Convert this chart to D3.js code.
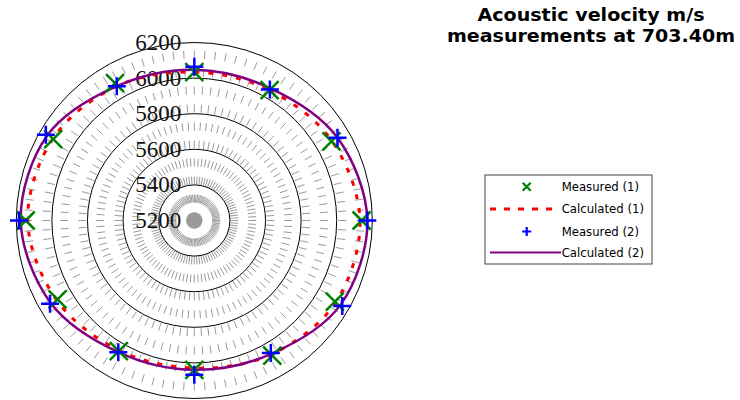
<!DOCTYPE html>
<html>
<head>
<meta charset="utf-8">
<script src="https://cdn.jsdelivr.net/npm/d3@7"></script>
<style>
  html, body { margin: 0; padding: 0; background: #fff; }
  svg { display: block; }
</style>
</head>
<body>
<svg id="chart" width="740" height="400"></svg>
<script>
// Bearings (degrees, clockwise from north) of the twelve readings
const angles = [0, 30, 60, 90, 120, 150, 180, 210, 240, 270, 300, 330];

// Acoustic velocity (m/s) per bearing
const measured1   = [6034, 6046, 6090, 6140, 6112, 6076, 6039, 6048, 6087, 6147, 6115, 6091];
const calculated1 = [6034, 6045, 6093, 6131, 6118, 6068, 6029, 6043, 6093, 6136, 6118, 6071];
const measured2   = [6064, 6049, 6129, 6172, 6160, 6060, 6067, 6054, 6136, 6185, 6163, 6071];
const calculated2 = [6047, 6057, 6129, 6172, 6148, 6065, 6039, 6054, 6130, 6175, 6154, 6071];

// Radial axis rings and labels
const ringTicks = [5200, 5400, 5600, 5800, 6000, 6200];
const spokeCount = 100;

const titleLines = ["Acoustic velocity m/s", "measurements at 703.40m"];
const legendLabels = ["Measured (1)", "Calculated (1)", "Measured (2)", "Calculated (2)"];

const colors = { m1: "#008000", c1: "#ff0000", m2: "#0000ff", c2: "#800080" };

const svg = d3.select("#chart");
const cx = 194.3, cy = 220.5, R = 178;

const rScale = d3.scaleLinear().domain([5200, 6200]).range([0, R]);
const aScale = d3.scaleLinear().domain([0, 360]).range([0, 2 * Math.PI]);

const plot = svg.append("g").attr("transform", `translate(${cx},${cy})`);

// Dashed grey spokes
const spokeAngles = d3.range(spokeCount).map(i => i * 360 / spokeCount);
plot.append("g").selectAll("line").data(spokeAngles).join("line")
  .attr("x1", 0).attr("y1", 0)
  .attr("x2", d => d3.pointRadial(aScale(d), R)[0])
  .attr("y2", d => d3.pointRadial(aScale(d), R)[1])
  .attr("stroke", "#9a9a9a")
  .attr("stroke-width", 1)
  .attr("stroke-dasharray", "8,10");

// Spokes converge into a solid hub
plot.append("circle").attr("r", 7.5).attr("fill", "#9a9a9a");

// Rings
plot.append("g").selectAll("circle").data(ringTicks.filter(v => rScale(v) > 0)).join("circle")
  .attr("r", d => rScale(d))
  .attr("fill", "none")
  .attr("stroke", "#000")
  .attr("stroke-width", 1);

// Ring labels
plot.append("g").selectAll("text").data(ringTicks).join("text")
  .attr("x", -13)
  .attr("y", d => -rScale(d))
  .attr("text-anchor", "end")
  .attr("dominant-baseline", "central")
  .attr("font-family", "'Liberation Serif', 'Times New Roman', serif")
  .attr("font-size", 23)
  .attr("fill", "#111")
  .text(d => d);

// Calculated curves
function series(values) { return angles.map((ang, i) => ({ ang, v: values[i] })); }
const radial = d3.lineRadial()
  .angle(d => aScale(d.ang))
  .radius(d => rScale(d.v))
  .curve(d3.curveCardinalClosed);

plot.append("path").datum(series(calculated1))
  .attr("d", radial)
  .attr("fill", "none")
  .attr("stroke", colors.c1)
  .attr("stroke-width", 3)
  .attr("stroke-dasharray", "5,9");

plot.append("path").datum(series(calculated2))
  .attr("d", radial)
  .attr("fill", "none")
  .attr("stroke", colors.c2)
  .attr("stroke-width", 2.5);

// Marker shapes
const crossX = s => `M${-s},${-s}L${s},${s}M${-s},${s}L${s},${-s}`;
const plus = s => `M${-s},0H${s}M0,${-s}V${s}`;

plot.append("g").selectAll("path").data(series(measured1)).join("path")
  .attr("transform", d => `translate(${d3.pointRadial(aScale(d.ang), rScale(d.v))})`)
  .attr("d", crossX(9))
  .attr("stroke", colors.m1)
  .attr("stroke-width", 2.5)
  .attr("fill", "none");

plot.append("g").selectAll("path").data(series(measured2)).join("path")
  .attr("transform", d => `translate(${d3.pointRadial(aScale(d.ang), rScale(d.v))})`)
  .attr("d", plus(9))
  .attr("stroke", colors.m2)
  .attr("stroke-width", 2.5)
  .attr("fill", "none");

// Title
const title = svg.append("text")
  .attr("x", 591)
  .attr("text-anchor", "middle")
  .attr("font-family", "'DejaVu Sans', Verdana, sans-serif")
  .attr("font-weight", "bold")
  .attr("font-size", 18)
  .attr("fill", "#000");
const titleWidths = [227, 288];
titleLines.forEach((t, i) => {
  title.append("tspan")
    .attr("x", 591)
    .attr("y", 21 + i * 21)
    .attr("textLength", titleWidths[i])
    .attr("lengthAdjust", "spacingAndGlyphs")
    .text(t);
});

// Legend
const legend = svg.append("g").attr("transform", "translate(485,175)");
legend.append("rect")
  .attr("width", 167).attr("height", 89)
  .attr("fill", "#fff")
  .attr("stroke", "#444")
  .attr("stroke-width", 1);

const rowY = [11.7, 34, 56.5, 77.5];
const keys = ["m1", "c1", "m2", "c2"];
keys.forEach((k, i) => {
  const y = rowY[i];
  if (k === "m1") {
    legend.append("path").attr("transform", `translate(41.7,${y})`).attr("d", crossX(4))
      .attr("stroke", colors.m1).attr("stroke-width", 2.2).attr("fill", "none");
  } else if (k === "m2") {
    legend.append("path").attr("transform", `translate(41.7,${y})`).attr("d", plus(4.5))
      .attr("stroke", colors.m2).attr("stroke-width", 2.2).attr("fill", "none");
  } else if (k === "c1") {
    legend.append("line").attr("x1", 5).attr("x2", 67).attr("y1", y).attr("y2", y)
      .attr("stroke", colors.c1).attr("stroke-width", 3).attr("stroke-dasharray", "6,8");
  } else {
    legend.append("line").attr("x1", 5).attr("x2", 76).attr("y1", y).attr("y2", y)
      .attr("stroke", colors.c2).attr("stroke-width", 2);
  }
  legend.append("text")
    .attr("x", 76.7)
    .attr("y", y)
    .attr("dominant-baseline", "central")
    .attr("font-family", "'DejaVu Sans', Verdana, sans-serif")
    .attr("font-size", 11.7)
    .attr("fill", "#000")
    .text(legendLabels[i]);
});
</script>
</body>
</html>
